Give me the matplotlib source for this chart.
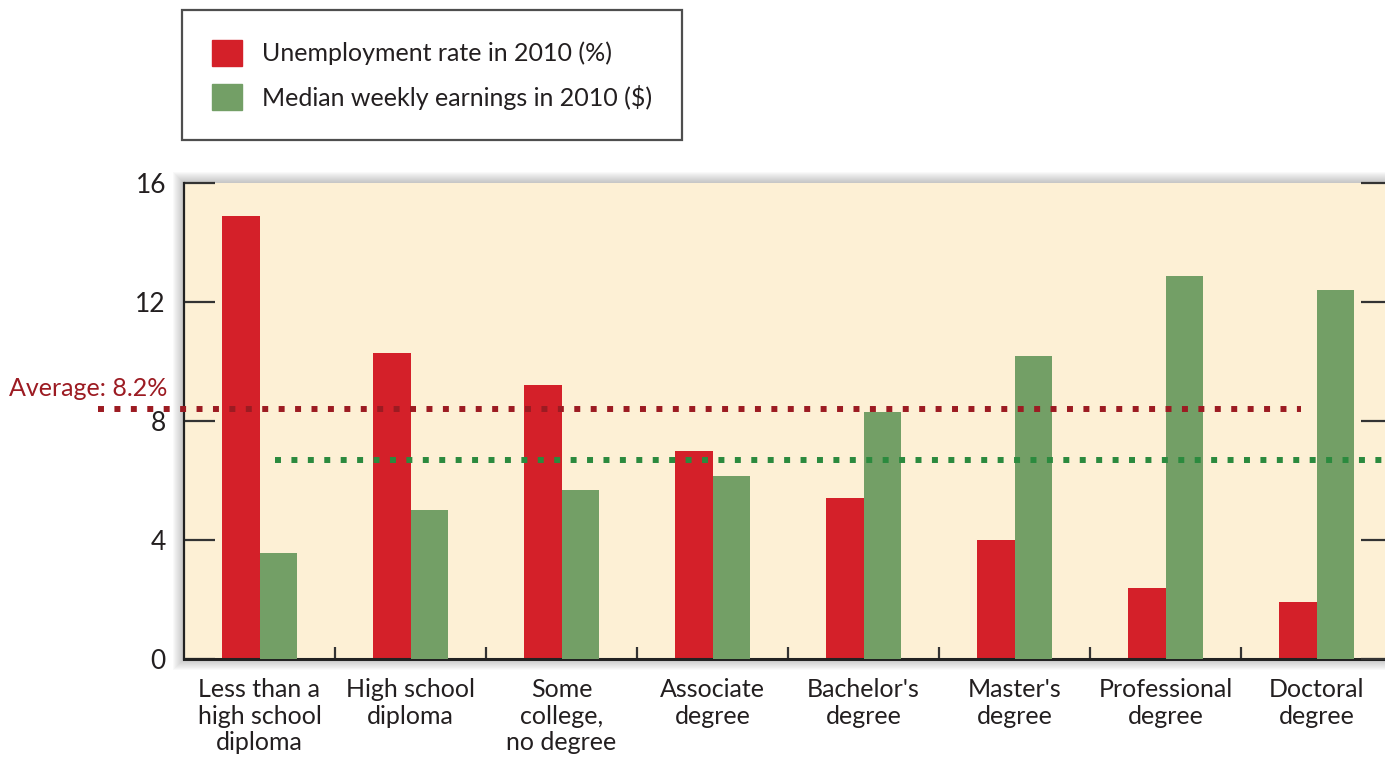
import matplotlib.pyplot as plt
from matplotlib.patches import Rectangle, Patch
import numpy as np

plt.rcParams['font.family'] = ['Lato', 'DejaVu Sans']

# data
categories = ['Less than a\nhigh school\ndiploma', 'High school\ndiploma', 'Some\ncollege,\nno degree',
              'Associate\ndegree', "Bachelor's\ndegree", "Master's\ndegree",
              'Professional\ndegree', 'Doctoral\ndegree']
unemployment = [14.9, 10.3, 9.2, 7.0, 5.4, 4.0, 2.4, 1.9]          # %
earnings = [444, 626, 712, 767, 1038, 1272, 1610, 1550]             # $ per week
avg_unemp_label = 'Average: 8.2%'
avg_unemp_line = 8.4      # where the dotted line sits in the picture
avg_earn_line = 836

red = '#d42029'
green = '#739f66'
red_line = '#9c1b22'
green_line = '#2b8a3e'
txt = '#231f20'

W, H = 1385, 758
fig = plt.figure(figsize=(W / 100, H / 100), dpi=100)

# axes box in pixels (right edge runs a bit past the image)
left_px, right_px, top_px, bot_px = 184, 1392, 183, 659
ax = fig.add_axes([left_px / W, 1 - bot_px / H, (right_px - left_px) / W, (bot_px - top_px) / H])
ax.set_facecolor('#fdf0d5')

# soft shadow behind the plot panel
for k in range(1, 12):
    fig.add_artist(Rectangle(((left_px - k) / W, 1 - (bot_px + k) / H),
                             (right_px - left_px + 2 * k) / W, (bot_px - top_px + 2 * k) / H,
                             transform=fig.transFigure, color='#606060', alpha=0.035,
                             lw=0, zorder=-1))

x = np.arange(len(categories))
bw = 0.25
ax.bar(x - bw / 2, unemployment, width=bw, color=red, zorder=2)
ax.set_xlim(-0.5, len(categories) - 0.5)
ax.set_ylim(0, 16)
ax.set_yticks([0, 4, 8, 12, 16])

ax2 = ax.twinx()
ax2.bar(x + bw / 2, earnings, width=bw, color=green, zorder=2)
ax2.set_ylim(0, 2000)
ax2.set_yticks([0, 500, 1000, 1500, 2000])
ax2.tick_params(axis='y', direction='in', length=22, width=1.6, color='#333333', labelright=False)

# average lines
ax2.plot([-1.07, 6.9], [avg_unemp_line] * 2, transform=ax.transData, color=red_line,
         lw=4.3, ls=(0, (1.0, 1.75)), dash_capstyle='butt',
         clip_on=False, zorder=5)
ax2.plot([0.1, 7.6], [avg_earn_line] * 2, color=green_line,
         lw=4.3, ls=(0, (1.0, 1.75)), dash_capstyle='butt', clip_on=False, zorder=5)
ax.text(-0.61, 9.1, avg_unemp_label, transform=ax.transData, color=red_line, fontsize=18,
        ha='right', va='center')

for a in (ax, ax2):
    for s in a.spines.values():
        s.set_visible(False)
ax.spines['left'].set_visible(True)
ax.spines['bottom'].set_visible(True)
ax.spines['left'].set_color('#222222')
ax.spines['left'].set_linewidth(1.6)
ax.spines['bottom'].set_color('#222222')
ax.spines['bottom'].set_linewidth(2.2)

ax.tick_params(axis='y', direction='in', length=22, width=1.6, color='#333333',
               labelsize=19, labelcolor=txt, pad=13)
ax.set_xticks(x)
ax.set_xticklabels(categories, fontsize=18, color=txt, linespacing=1.18)
ax.set_xticks(x[:-1] + 0.5, minor=True)
ax.tick_params(axis='x', which='major', length=0, pad=14)
ax.tick_params(axis='x', which='minor', direction='in', length=9, width=1.6, color='#333333')

# legend
handles = [Patch(color=red, label='Unemployment rate in 2010 (%)'),
           Patch(color=green, label='Median weekly earnings in 2010 ($)')]
leg = fig.legend(handles=handles, loc='upper left', bbox_to_anchor=(182 / W, 1 - 10 / H),
                 fontsize=18, frameon=True, fancybox=False, handlelength=1.2, handleheight=1.2,
                 handletextpad=0.8, labelspacing=0.75, borderpad=1.2, borderaxespad=0)
leg.get_frame().set_edgecolor('#222222')
leg.get_frame().set_linewidth(1.6)
for t in leg.get_texts():
    t.set_color(txt)

fig.savefig('out.png', dpi=100)
